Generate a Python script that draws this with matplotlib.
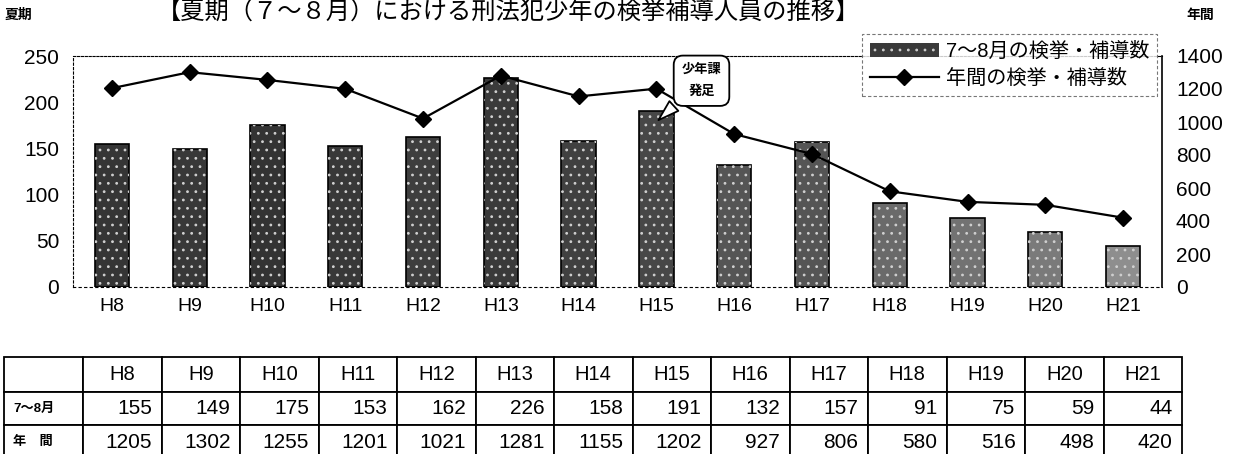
import matplotlib
matplotlib.use("Agg")
import matplotlib.pyplot as plt
from matplotlib.table import Table
from matplotlib.lines import Line2D
from matplotlib.patches import Patch

plt.rcParams['font.family'] = ['Liberation Sans', 'Noto Sans CJK JP', 'DejaVu Sans']
plt.rcParams['hatch.linewidth'] = 0.8

# data
years = ['H8', 'H9', 'H10', 'H11', 'H12', 'H13', 'H14',
         'H15', 'H16', 'H17', 'H18', 'H19', 'H20', 'H21']
summer = [155, 149, 175, 153, 162, 226, 158, 191, 132, 157, 91, 75, 59, 44]
annual = [1205, 1302, 1255, 1201, 1021, 1281, 1155, 1202, 927, 806, 580, 516, 498, 420]

title = '【夏期（７～８月）における刑法犯少年の検挙補導人員の推移】'
label_summer = '7～8月の検挙・補導数'
label_annual = '年間の検挙・補導数'

W, H = 1238, 454
fig = plt.figure(figsize=(W / 100, H / 100), dpi=100)

def fx(px):
    return px / W

def fy(py):
    return 1 - py / H

# main chart
ax = fig.add_axes([fx(73), fy(287), fx(1162) - fx(73), fy(56) - fy(287)])
ax2 = ax.twinx()

x = list(range(len(years)))
shades = ['#353535', '#383838', '#333333', '#383838', '#3e3e3e', '#3a3a3a', '#404040',
          '#474747', '#555555', '#555555', '#6a6a6a', '#727272', '#7a7a7a', '#8e8e8e']
ax.bar(x, summer, width=0.44, color=shades, edgecolor='black', linewidth=1.2, zorder=2)
ax.bar(x, summer, width=0.44, facecolor='none', edgecolor='#d0d0d0', linewidth=0,
       hatch='..', zorder=3)

ax2.plot(x, annual, color='black', lw=1.6, marker='D', ms=8.5, mfc='black', mec='black',
         zorder=4)

ax.set_xlim(-0.5, len(years) - 0.5)
ax.set_ylim(0, 250)
ax.set_yticks(range(0, 251, 50))
ax2.set_ylim(0, 1400)
ax2.set_yticks(range(0, 1401, 200))
ax.set_xticks(x)
ax.set_xticklabels(years, fontsize=14)
ax.tick_params(axis='x', length=0, pad=8)
ax.tick_params(axis='y', length=0, labelsize=15, pad=10)
ax2.tick_params(axis='y', length=0, labelsize=15, pad=10)

for a in (ax, ax2):
    for s in a.spines.values():
        s.set_visible(False)
ax.spines['top'].set_visible(True)
ax.spines['top'].set_linestyle((0, (2, 1.5)))
ax.spines['top'].set_linewidth(0.8)
ax.spines['bottom'].set_visible(True)
ax.spines['bottom'].set_linestyle((0, (2, 3)))
ax.spines['bottom'].set_linewidth(0.8)
ax.spines['left'].set_visible(True)
ax.spines['left'].set_linestyle((0, (2, 2)))
ax.spines['left'].set_linewidth(0.8)
ax2.spines['right'].set_visible(True)
ax2.spines['right'].set_linewidth(1.2)
ax.set_zorder(2)
ax2.set_zorder(3)
ax.patch.set_visible(False)
ax2.patch.set_visible(False)

# callout
ax2.annotate('少年課\n発足', xy=(7.0, 1000), xytext=(7.58, 1250),
             ha='center', va='center', fontsize=9.5, fontweight='bold',
             linespacing=2.0,
             bbox=dict(boxstyle='round,pad=0.6,rounding_size=0.7', fc='white',
                       ec='black', lw=1.3),
             arrowprops=dict(arrowstyle='wedge,tail_width=1.0,shrink_factor=0.5',
                             fc='white', ec='black', lw=1.3),
             zorder=6)

# legend
handles = [Patch(facecolor='#3a3a3a', edgecolor='#d0d0d0', hatch='..', lw=0),
           Line2D([0], [0], color='black', lw=1.6, marker='D', ms=8.5)]
leg = fig.legend(handles, [label_summer, label_annual], loc='upper left',
                 bbox_to_anchor=(fx(862), fy(34)), fontsize=14.5, frameon=True,
                 fancybox=False, handlelength=3.4, handletextpad=0.35,
                 labelspacing=0.4, borderpad=0.4, borderaxespad=0)
frame = leg.get_frame()
frame.set_edgecolor('#555555')
frame.set_linestyle((0, (3, 2)))
frame.set_linewidth(0.8)
leg.set_zorder(10)

# corner labels and title
fig.text(fx(5), fy(15), '夏期', fontsize=10, fontweight='bold', va='center', ha='left')
fig.text(fx(1186), fy(15), '年間', fontsize=10, fontweight='bold', va='center', ha='left')
fig.text(fx(508), fy(13), title, fontsize=17.5, va='center', ha='center')

# data table
tax = fig.add_axes([fx(4), fy(459), fx(1182) - fx(4), fy(357) - fy(459)])
tax.axis('off')
tb = Table(tax, bbox=[0, 0, 1, 1])
col_w = [79] + [78.5] * len(years)
row_h = [35, 33, 34]
rows = [('', [str(y) for y in years], 'center'),
        ('7～8月', [str(v) for v in summer], 'right'),
        ('年　間', [str(v) for v in annual], 'right')]
for r, (head, cells, loc) in enumerate(rows):
    c0 = tb.add_cell(r, 0, col_w[0], row_h[r], text=head, loc='left')
    c0.get_text().set_fontsize(9.5)
    c0.get_text().set_fontweight('bold')
    for c, t in enumerate(cells, start=1):
        cell = tb.add_cell(r, c, col_w[c], row_h[r], text=t, loc=loc)
        cell.get_text().set_fontsize(15 if r else 14.5)
for cell in tb.get_celld().values():
    cell.set_linewidth(1.3)
    cell.set_edgecolor('black')
    cell.PAD = 0.12
tb.auto_set_font_size(False)
tax.add_table(tb)

fig.savefig('out.png', dpi=100)
